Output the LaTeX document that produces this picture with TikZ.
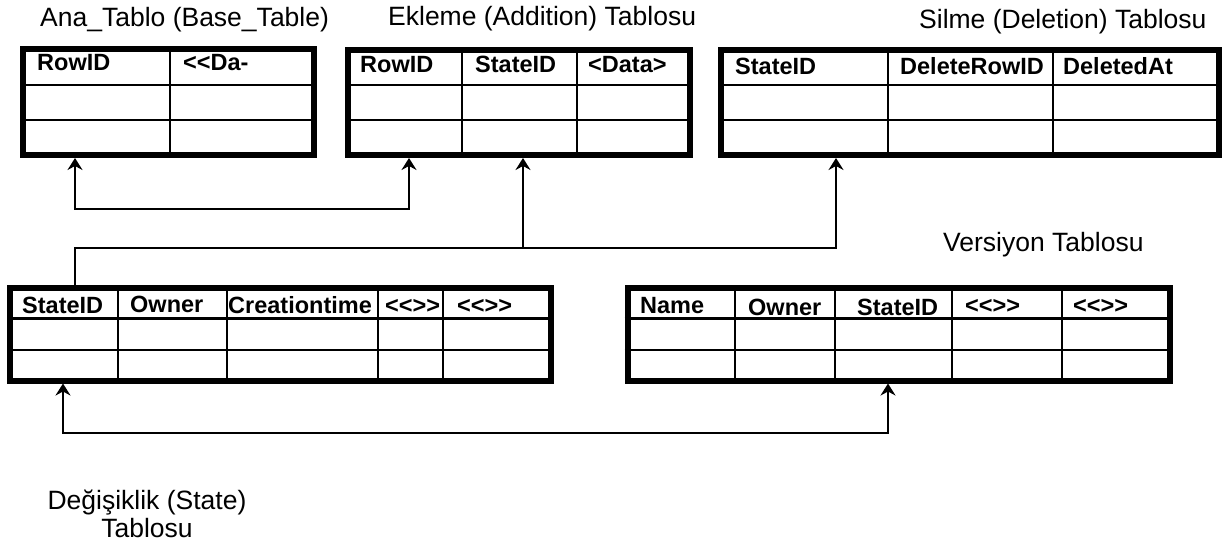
\documentclass[tikz,border=0pt]{standalone}
\usepackage{fontspec}
\setmainfont{Liberation Sans}
\usetikzlibrary{arrows.meta}

\begin{document}
\begin{tikzpicture}[x=1pt,y=-1pt,>={Stealth[length=12pt,width=15pt,inset=4pt]},
  tbl/.style={draw,line width=6pt,inner sep=0pt},
  cell line/.style={line width=2.5pt},
  link/.style={line width=1.8pt},
  head/.style={anchor=base west,inner sep=0pt,font=\bfseries\fontsize{23.5}{26}\selectfont},
  tabletitle/.style={anchor=base west,inner sep=0pt,font=\fontsize{26.5}{28}\selectfont}]
  \useasboundingbox (0,0) rectangle (1223,544);

  % tables
  \node[tbl,minimum width=291pt,minimum height=106pt] (ana) at (168.5,102) {};
  \node[tbl,minimum width=342pt,minimum height=105pt] (ekl) at (519,102.5) {};
  \node[tbl,minimum width=498pt,minimum height=105pt] (sil) at (970,102.5) {};
  \node[tbl,minimum width=541pt,minimum height=92.5pt] (stt) at (280.5,334.25) {};
  \node[tbl,minimum width=542pt,minimum height=92.5pt] (ver) at (898.5,334.25) {};

  % cells
  \draw[cell line] (ana.north -| 170,0) -- (ana.south -| 170,0);
  \foreach \x in {462,577} \draw[cell line] (ekl.north -| \x,0) -- (ekl.south -| \x,0);
  \foreach \x in {888,1053} \draw[cell line] (sil.north -| \x,0) -- (sil.south -| \x,0);
  \foreach \x in {118,227,378,443} \draw[cell line] (stt.north -| \x,0) -- (stt.south -| \x,0);
  \foreach \x in {735,835,952,1062} \draw[cell line] (ver.north -| \x,0) -- (ver.south -| \x,0);
  \foreach \t in {ana,ekl,sil} {
    \foreach \y in {85,120} \draw[cell line] (\t.west |- 0,\y) -- (\t.east |- 0,\y);
  }
  \foreach \t in {stt,ver} {
    \foreach \y in {318.5,350} \draw[cell line] (\t.west |- 0,\y) -- (\t.east |- 0,\y);
  }

  % column heads
  \node[head] (ana-rowid) at (37,70) {RowID};
  \node[head] (ana-data) at (183,70) {<{}<Da-};
  \node[head] (ekl-rowid) at (360,72) {RowID};
  \node[head] (ekl-state) at (475,72) {StateID};
  \node[head] (ekl-data) at (588,72) {<Data>};
  \node[head] (sil-state) at (735,74) {StateID};
  \node[head] (sil-row) at (900,74) {DeleteRowID};
  \node[head] (sil-at) at (1063,74) {DeletedAt};
  \node[head] (stt-state) at (22,313) {StateID};
  \node[head] (stt-owner) at (130,312) {Owner};
  \node[head] (stt-time) at (228,313) {Creationtime};
  \node[head] (stt-x1) at (385,313) {<{}<>{}>};
  \node[head] (stt-x2) at (457,313) {<{}<>{}>};
  \node[head] (ver-name) at (640,313) {Name};
  \node[head] (ver-owner) at (748,315) {Owner};
  \node[head] (ver-state) at (857,315) {StateID};
  \node[head] (ver-x1) at (965,313) {<{}<>{}>};
  \node[head] (ver-x2) at (1073,313) {<{}<>{}>};

  % titles
  \node[tabletitle] (ana-title) at (40,26) {Ana\_Tablo (Base\_Table)};
  \node[tabletitle] (ekl-title) at (388,25) {Ekleme (Addition) Tablosu};
  \node[tabletitle] (sil-title) at (919,28) {Silme (Deletion) Tablosu};
  \node[tabletitle] (ver-title) at (943,251) {Versiyon Tablosu};
  \node[tabletitle,anchor=center,align=center] (stt-title) at (147,514) {Değişiklik (State)\\Tablosu};

  % links
  \draw[link,<->] (ana.south -| 75,0) -- (75,209) -| (ekl.south -| 409,0);
  \draw[link,->] (stt.north -| 75,0) |- (836,248) -- (sil.south -| 836,0);
  \draw[link,->] (523,248) -- (ekl.south -| 523,0);
  \draw[link,<->] (stt.south -| 63,0) -- (63,433) -| (ver.south -| 888,0);
\end{tikzpicture}
\end{document}
